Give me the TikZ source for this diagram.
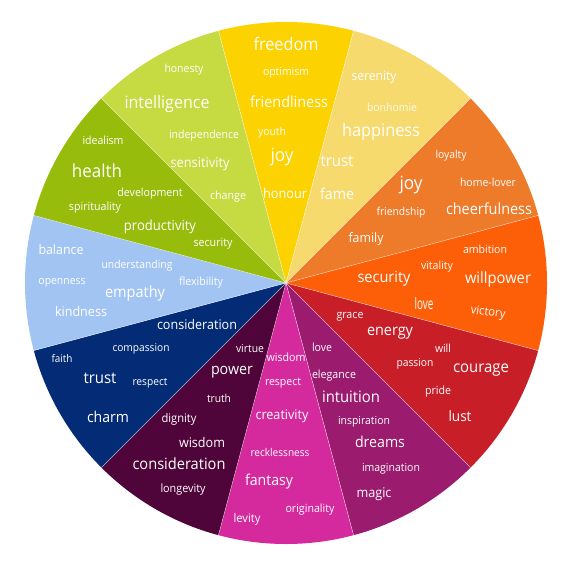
\documentclass[tikz,border=0pt]{standalone}
\usepackage{fontspec}
\setmainfont{Open Sans}
\usetikzlibrary{calc}
\definecolor{cYel}{HTML}{FCD200}
\definecolor{cPale}{HTML}{F6DA6E}
\definecolor{cOra}{HTML}{EE7B2A}
\definecolor{cOrR}{HTML}{FD5E08}
\definecolor{cRed}{HTML}{C81E28}
\definecolor{cPur}{HTML}{9B1B6E}
\definecolor{cMag}{HTML}{D52A9E}
\definecolor{cMar}{HTML}{50053A}
\definecolor{cNav}{HTML}{042C76}
\definecolor{cBlu}{HTML}{A2C4F3}
\definecolor{cGrn}{HTML}{98BC0C}
\definecolor{cLgr}{HTML}{C6DA42}
\newcommand\fitw[2]{\scalebox{1}[1.06]{\resizebox{#1pt}{!}{#2}}}
\tikzset{
  lbl/.style={text=white, inner sep=0pt, anchor=center},
  sep/.style={white, line width=0.5pt, opacity=0.6}
}
\begin{document}
\begin{tikzpicture}[x=1pt, y=-1pt]
\useasboundingbox (0,0) rectangle (570,569);
\coordinate (O) at (286,283);
\begin{scope}
\clip (O) circle[radius=261];
\foreach \a/\b/\c in {75/105/cYel, 45/75/cPale, 15/45/cOra, -15/15/cOrR, -45/-15/cRed, -75/-45/cPur, -105/-75/cMag, -135/-105/cMar, -165/-135/cNav, 165/195/cBlu, 135/165/cGrn, 105/135/cLgr}
  \fill[\c] (O) -- ($(O)+(\a:300pt)$) -- ($(O)+(\b:300pt)$) -- cycle;
\foreach \a in {15,45,...,345}
  \draw[sep] (O) -- ($(O)+(\a:261pt)$);
\end{scope}
% yellow
\node[lbl] (y1) at (286,44) {\fitw{65}{freedom}};
\node[lbl] (y2) at (286,73) {\fitw{46}{optimism}};
\node[lbl] (y3) at (289,102) {\fitw{78}{friendliness}};
\node[lbl] (y4) at (272,133) {\fitw{28}{youth}};
\node[lbl] (y5) at (282,157) {\fitw{23}{joy}};
\node[lbl] (y6) at (285,193) {\fitw{44}{honour}};
% pale yellow
\node[lbl] (p1) at (374,77) {\fitw{45}{serenity}};
\node[lbl, opacity=0.85] (p2) at (392,107) {\fitw{50}{bonhomie}};
\node[lbl] (p3) at (381,132) {\fitw{78}{happiness}};
\node[lbl] (p4) at (337,161) {\fitw{33}{trust}};
\node[lbl] (p5) at (337,194) {\fitw{34}{fame}};
% orange
\node[lbl] (o1) at (451,156) {\fitw{31}{loyalty}};
\node[lbl] (o2) at (488,182) {\fitw{56}{home-lover}};
\node[lbl] (o3) at (411,185) {\fitw{23}{joy}};
\node[lbl] (o4) at (489,209) {\fitw{86}{cheerfulness}};
\node[lbl] (o5) at (401,213) {\fitw{49}{friendship}};
\node[lbl] (o6) at (366,239) {\fitw{35}{family}};
% orange-red
\node[lbl] (r1) at (485,249) {\fitw{44}{ambition}};
\node[lbl] (r2) at (437,267) {\fitw{32}{vitality}};
\node[lbl] (r3) at (384,279) {\fitw{53}{security}};
\node[lbl] (r4) at (498,279) {\fitw{66}{willpower}};
\node[lbl] (r5) at (424,304) {\resizebox{19pt}{12pt}{love}};
\node[lbl, rotate=-8] (r6) at (488,313) {\fitw{35}{victory}};
% red
\node[lbl] (d1) at (350,317) {\fitw{27}{grace}};
\node[lbl] (d2) at (390,333) {\fitw{46}{energy}};
\node[lbl] (d3) at (443,348) {\fitw{16}{will}};
\node[lbl] (d4) at (415,364) {\fitw{37}{passion}};
\node[lbl] (d5) at (481,370) {\fitw{56}{courage}};
\node[lbl] (d6) at (438,392) {\fitw{26}{pride}};
\node[lbl] (d7) at (460,416) {\fitw{23}{lust}};
% purple
\node[lbl] (u1) at (322,347) {\fitw{20}{love}};
\node[lbl] (u2) at (334,376) {\fitw{44}{elegance}};
\node[lbl] (u3) at (351,397) {\fitw{58}{intuition}};
\node[lbl] (u4) at (364,422) {\fitw{52}{inspiration}};
\node[lbl] (u5) at (380,442) {\fitw{50}{dreams}};
\node[lbl] (u6) at (391,469) {\fitw{58}{imagination}};
\node[lbl] (u7) at (374,494) {\fitw{35}{magic}};
% magenta
\node[lbl] (m1) at (286,357) {\fitw{39}{wisdom}};
\node[lbl] (m2) at (283,383) {\fitw{36}{respect}};
\node[lbl] (m3) at (282,416) {\fitw{53}{creativity}};
\node[lbl] (m4) at (280,452) {\fitw{59}{recklessness}};
\node[lbl] (m5) at (269,482) {\fitw{48}{fantasy}};
\node[lbl] (m6) at (310,510) {\fitw{49}{originality}};
\node[lbl] (m7) at (247,519) {\fitw{27}{levity}};
% maroon
\node[lbl] (a1) at (250,349) {\fitw{28}{virtue}};
\node[lbl] (a2) at (232,372) {\fitw{42}{power}};
\node[lbl] (a3) at (219,398) {\fitw{24}{truth}};
\node[lbl] (a4) at (179,419) {\fitw{35}{dignity}};
\node[lbl] (a5) at (202,442) {\fitw{46}{wisdom}};
\node[lbl] (a6) at (179,464) {\fitw{93}{consideration}};
\node[lbl] (a7) at (183,490) {\fitw{45}{longevity}};
% navy
\node[lbl] (n1) at (197,325) {\fitw{80}{consideration}};
\node[lbl] (n2) at (141,349) {\fitw{57}{compassion}};
\node[lbl] (n3) at (62,359) {\fitw{21}{faith}};
\node[lbl] (n4) at (100,378) {\fitw{33}{trust}};
\node[lbl] (n5) at (150,383) {\fitw{35}{respect}};
\node[lbl] (n6) at (108,417) {\fitw{42}{charm}};
% light blue
\node[lbl] (b1) at (61,250) {\fitw{45}{balance}};
\node[lbl] (b2) at (137,266) {\fitw{71}{understanding}};
\node[lbl] (b3) at (62,283) {\fitw{47}{openness}};
\node[lbl] (b4) at (201,283) {\fitw{44}{flexibility}};
\node[lbl] (b5) at (135,293) {\fitw{60}{empathy}};
\node[lbl] (b6) at (81,311) {\fitw{52}{kindness}};
% green
\node[lbl] (g1) at (103,140) {\fitw{41}{idealism}};
\node[lbl] (g2) at (97,171) {\fitw{50}{health}};
\node[lbl] (g3) at (150,194) {\fitw{65}{development}};
\node[lbl] (g4) at (95,208) {\fitw{52}{spirituality}};
\node[lbl] (g5) at (160,227) {\fitw{72}{productivity}};
\node[lbl] (g6) at (213,244) {\fitw{39}{security}};
% light green
\node[lbl] (l1) at (184,70) {\fitw{39}{honesty}};
\node[lbl] (l2) at (167,104) {\fitw{85}{intelligence}};
\node[lbl] (l3) at (204,136) {\fitw{70}{independence}};
\node[lbl] (l4) at (200,164) {\fitw{59}{sensitivity}};
\node[lbl] (l5) at (228,197) {\fitw{36}{change}};
\end{tikzpicture}
\end{document}
